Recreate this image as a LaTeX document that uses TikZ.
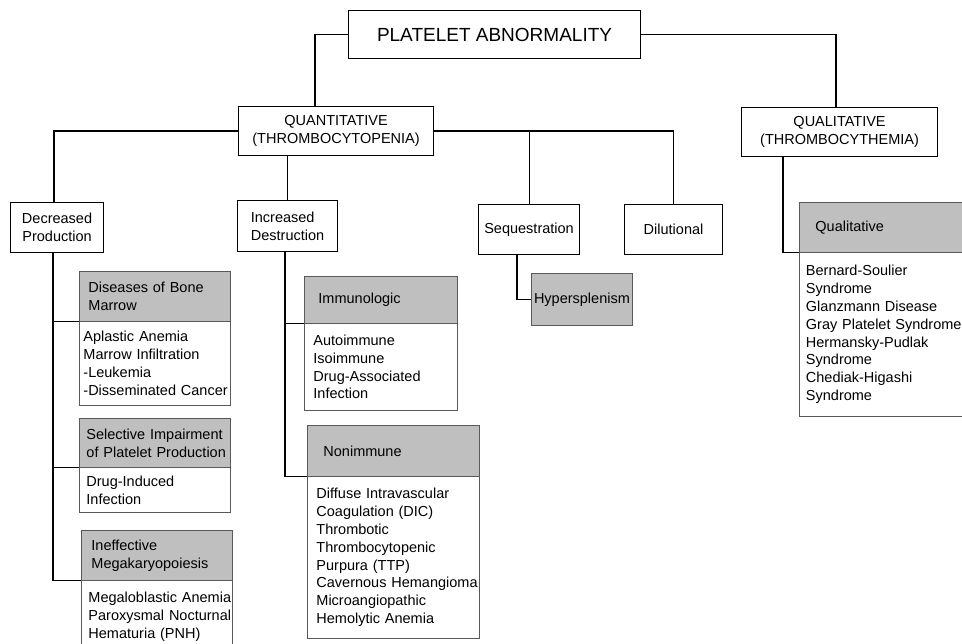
\documentclass[tikz,border=0pt]{standalone}
\usepackage{fontspec}
\setmainfont{Liberation Sans}
\usepackage{tikz}
\usetikzlibrary{positioning}
\definecolor{hdrgray}{gray}{0.75}

\begin{document}
\begin{tikzpicture}[x=1pt,y=-1pt,line width=1.1pt]
\tikzstyle{box}=[draw, rectangle, anchor=north west, inner sep=0pt, align=center, font=\fontsize{14.5}{17.8}\selectfont]
\tikzstyle{lst}=[box, draw=black!65, line width=0.9pt, align=left, inner xsep=0pt]
\tikzstyle{hdr}=[lst, fill=hdrgray]
\tikzstyle{lpad}=[execute at begin node={\leftskip=#1}]
\useasboundingbox (0,0) rectangle (962,644);
\clip (0,0) rectangle (962,644);
% top levels
\node[box, minimum width=292pt, minimum height=48pt, font=\fontsize{19}{23}\selectfont] (top) at (348,10) {PLATELET ABNORMALITY};
\node[box, minimum width=195pt, minimum height=49pt] (quant) at (238,106) {QUANTITATIVE\\(THROMBOCYTOPENIA)};
\node[box, minimum width=196pt, minimum height=49pt] (qual) at (741,107) {QUALITATIVE\\(THROMBOCYTHEMIA)};
\node[box, minimum width=93pt, minimum height=50pt] (decr) at (10,202) {Decreased\\Production};
\node[box, minimum width=100pt, minimum height=51pt, align=left] (incr) at (237,200) {Increased\\Destruction};
\node[box, minimum width=101pt, minimum height=50pt] (seq) at (478,204) {Sequestration};
\node[box, minimum width=98pt, minimum height=50pt] (dil) at (624,204) {Dilutional};
\node[box, draw=black!65, line width=0.9pt, fill=hdrgray, minimum width=101pt, minimum height=52pt] (hyp) at (531,273) {Hypersplenism};
% decreased production
\node[hdr, text width=151pt, minimum height=50pt, lpad=9pt] (dbmh) at (79,271) {Diseases of Bone\\Marrow};
\node[lst, text width=151pt, minimum height=84pt, lpad=4pt] (dbml) at (79,321) {Aplastic Anemia\\Marrow Infiltration\\-Leukemia\\-Disseminated Cancer};
\node[hdr, text width=151pt, minimum height=49pt, lpad=7pt] (selh) at (79,418) {Selective Impairment\\of Platelet Production};
\node[lst, text width=151pt, minimum height=45pt, lpad=7pt] (sell) at (79,467) {Drug-Induced\\Infection};
\node[hdr, text width=151pt, minimum height=50pt, lpad=10pt] (inefh) at (81,530) {Ineffective\\Megakaryopoiesis};
\node[lst, text width=151pt, minimum height=72pt, lpad=7pt] (inefl) at (81,580) {Megaloblastic Anemia\\Paroxysmal Nocturnal\\Hematuria (PNH)};
% increased destruction
\node[hdr, text width=153pt, minimum height=47pt, lpad=14pt] (immh) at (304,276) {Immunologic};
\node[lst, text width=153pt, minimum height=87pt, lpad=9pt] (imml) at (304,323) {Autoimmune\\Isoimmune\\Drug-Associated\\Infection};
\node[hdr, text width=172pt, minimum height=51pt, lpad=16pt] (nonh) at (307,425) {Nonimmune};
\node[lst, text width=172pt, minimum height=162pt, lpad=9pt] (nonl) at (307,476) {Diffuse Intravascular\\Coagulation (DIC)\\Thrombotic\\Thrombocytopenic\\Purpura (TTP)\\Cavernous Hemangioma\\Microangiopathic\\Hemolytic Anemia};
% qualitative
\node[hdr, text width=170pt, minimum height=50pt, lpad=16pt] (qualh) at (799,202) {Qualitative};
\node[lst, text width=170pt, minimum height=164pt, lpad=6.5pt] (quall) at (799,252) {Bernard-Soulier\\Syndrome\\Glanzmann Disease\\Gray Platelet Syndrome\\Hermansky-Pudlak\\Syndrome\\Chediak-Higashi\\Syndrome};
% connectors
\draw (top.west) -| ([xshift=77pt]quant.north west);
\draw (top.east) -| ([xshift=95pt]qual.north west);
\draw (quant.west) -| ([xshift=44pt]decr.north west);
\draw (quant.east) -| (dil.north);
\draw (seq.north) -- (seq.north |- quant.east);
\draw (incr.north) -- (incr.north |- quant.south);
\draw ([xshift=39pt]seq.south west) |- (hyp.west);
\draw ([xshift=42pt]qual.south west) |- (qualh.south west);
\foreach \n in {dbmh,selh,inefh} {\draw ([xshift=43pt]decr.south west) |- (\n.south west);}
\foreach \n in {immh,nonh} {\draw ([xshift=48pt]incr.south west) |- (\n.south west);}
\end{tikzpicture}
\end{document}
